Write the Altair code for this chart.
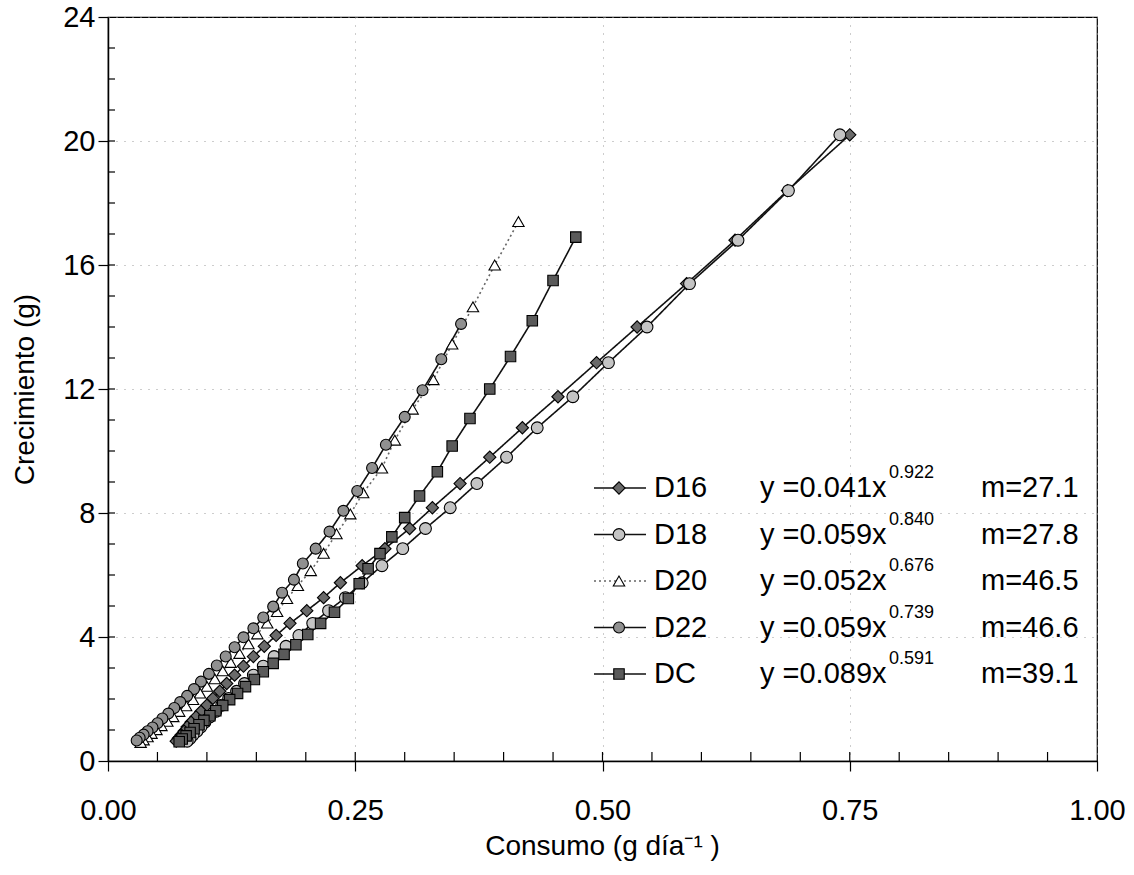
import altair as alt
import pandas as pd

FONT = "Liberation Sans, Arial, sans-serif"

series_names = ["D16", "D18", "D20", "D22", "DC"]

d16_x = [0.75, 0.687, 0.634, 0.585, 0.535, 0.494, 0.455, 0.419, 0.386, 0.356, 0.328, 0.305, 0.280,
         0.257, 0.235, 0.218, 0.201, 0.184, 0.170, 0.158, 0.147, 0.137, 0.128, 0.120, 0.113, 0.106,
         0.100, 0.094, 0.089, 0.084, 0.080, 0.077, 0.074, 0.071, 0.069]
d16_y = [20.2, 18.4, 16.8, 15.4, 14.0, 12.85, 11.75, 10.75, 9.8, 8.95, 8.17, 7.5, 6.85, 6.3, 5.75,
         5.27, 4.85, 4.44, 4.05, 3.7, 3.37, 3.06, 2.77, 2.5, 2.25, 2.02, 1.8, 1.6, 1.42, 1.25, 1.1,
         0.96, 0.84, 0.73, 0.64]

d18_x = [0.74, 0.688, 0.637, 0.588, 0.545, 0.506, 0.470, 0.434, 0.403, 0.373, 0.346, 0.321, 0.298,
         0.277, 0.257, 0.240, 0.223, 0.207, 0.193, 0.180, 0.168, 0.157, 0.147, 0.138, 0.130, 0.122,
         0.115, 0.109, 0.103, 0.098, 0.094, 0.090, 0.086, 0.083, 0.080]
d18_y = [20.2, 18.4, 16.8, 15.4, 14.0, 12.85, 11.75, 10.75, 9.8, 8.95, 8.17, 7.5, 6.85, 6.3, 5.75,
         5.27, 4.85, 4.44, 4.05, 3.7, 3.37, 3.06, 2.77, 2.5, 2.25, 2.02, 1.8, 1.6, 1.42, 1.25, 1.1,
         0.96, 0.84, 0.73, 0.64]

d20_x = [0.415, 0.391, 0.369, 0.348, 0.329, 0.308, 0.290, 0.277, 0.258, 0.245, 0.231, 0.218, 0.205,
         0.192, 0.181, 0.171, 0.161, 0.151, 0.142, 0.133, 0.124, 0.116, 0.108, 0.100, 0.093, 0.086,
         0.079, 0.072, 0.066, 0.060, 0.054, 0.049, 0.044, 0.040, 0.036, 0.033]
d20_y = [17.4, 16.0, 14.65, 13.45, 12.3, 11.35, 10.35, 9.45, 8.65, 7.97, 7.33, 6.7, 6.14, 5.66, 5.24,
         4.82, 4.45, 4.1, 3.78, 3.47, 3.18, 2.91, 2.65, 2.41, 2.19, 1.98, 1.78, 1.6, 1.43, 1.28, 1.14,
         1.01, 0.89, 0.78, 0.68, 0.6]

d22_x = [0.357, 0.337, 0.318, 0.300, 0.281, 0.267, 0.252, 0.238, 0.224, 0.210, 0.197, 0.188, 0.176,
         0.167, 0.157, 0.147, 0.137, 0.128, 0.119, 0.110, 0.102, 0.094, 0.087, 0.080, 0.073, 0.067,
         0.061, 0.055, 0.050, 0.045, 0.040, 0.036, 0.032, 0.029]
d22_y = [14.1, 12.96, 11.96, 11.1, 10.2, 9.45, 8.71, 8.07, 7.4, 6.85, 6.37, 5.85, 5.43, 4.98, 4.63,
         4.28, 3.99, 3.67, 3.37, 3.08, 2.81, 2.56, 2.32, 2.10, 1.90, 1.71, 1.53, 1.37, 1.22, 1.08,
         0.96, 0.85, 0.75, 0.66]

dc_x = [0.473, 0.450, 0.429, 0.407, 0.386, 0.366, 0.348, 0.333, 0.315, 0.300, 0.287, 0.275, 0.263,
        0.254, 0.243, 0.229, 0.215, 0.202, 0.190, 0.178, 0.167, 0.157, 0.148, 0.139, 0.131, 0.123,
        0.116, 0.109, 0.103, 0.097, 0.092, 0.087, 0.083, 0.079, 0.075, 0.072]
dc_y = [16.9, 15.5, 14.2, 13.05, 12.0, 11.05, 10.16, 9.33, 8.55, 7.85, 7.23, 6.69, 6.2, 5.72, 5.24,
        4.8, 4.44, 4.08, 3.75, 3.44, 3.15, 2.88, 2.63, 2.4, 2.18, 1.98, 1.79, 1.62, 1.46, 1.31, 1.17,
        1.04, 0.92, 0.81, 0.71, 0.62]

coef = ["0.041", "0.059", "0.052", "0.059", "0.089"]
expo = ["0.922", "0.840", "0.676", "0.739", "0.591"]
slope = ["27.1", "27.8", "46.5", "46.6", "39.1"]

x_ticks_major = [0.0, 0.25, 0.5, 0.75, 1.0]
y_ticks_major = [0, 4, 8, 12, 16, 20, 24]
x_ticks_minor = [0.05, 0.10, 0.15, 0.20, 0.25, 0.30, 0.35, 0.40, 0.45, 0.50, 0.55, 0.60, 0.65,
                 0.70, 0.75, 0.80, 0.85, 0.90, 0.95]
y_ticks_minor = [1, 2, 3, 4, 5, 6, 7, 8, 9, 10, 11, 12, 13, 14, 15, 16, 17, 18, 19, 20, 21, 22, 23]

# ---- tables ----
frames = []
for name, xs, ys in zip(series_names, [d16_x, d18_x, d20_x, d22_x, dc_x],
                        [d16_y, d18_y, d20_y, d22_y, dc_y]):
    frames.append(pd.DataFrame({"serie": name, "x": xs, "y": ys, "k": list(range(len(xs)))}))
df = pd.concat(frames, ignore_index=True)

df_leg = pd.DataFrame({
    "serie": series_names,
    "eq": ["y =" + c + "x" for c in coef],
    "expo": expo,
    "m": ["m=" + s for s in slope],
})

# ---- styles ----
line_colors = ["#111111", "#111111", "#666666", "#111111", "#111111"]
dashes = [[1, 0], [1, 0], [2, 3], [1, 0], [1, 0]]
fills = ["#6a6a6a", "#c4c4c4", "#ffffff", "#909090", "#5a5a5a"]
shapes = ["diamond", "circle", "triangle-up", "circle", "square"]
sizes = [150, 110, 95, 115, 100]

color_enc = alt.Color("serie:N", scale=alt.Scale(domain=series_names, range=line_colors), legend=None)
dash_enc = alt.StrokeDash("serie:N", scale=alt.Scale(domain=series_names, range=dashes), legend=None)
fill_enc = alt.Fill("serie:N", scale=alt.Scale(domain=series_names, range=fills), legend=None)
shape_enc = alt.Shape("serie:N", scale=alt.Scale(domain=series_names, range=shapes), legend=None)
size_enc = alt.Size("serie:N", scale=alt.Scale(domain=series_names, range=sizes), legend=None)

x_axis = alt.Axis(values=x_ticks_major, format=".2f", title="Consumo (g día⁻¹ )",
                  labelPadding=25, titleX=494, titleY=85, titleBaseline="middle",
                  titleAlign="center", labelFlush=False, labelOverlap=False)
y_axis = alt.Axis(values=y_ticks_major, format="d", title="Crecimiento (g)",
                  labelPadding=3, titleX=-83, titleY=372, titleAngle=270,
                  titleBaseline="middle", titleAlign="center", labelOverlap=False)

x_enc = alt.X("x:Q", scale=alt.Scale(domain=[0, 1], nice=False, zero=False), axis=x_axis)
y_enc = alt.Y("y:Q", scale=alt.Scale(domain=[0, 24], nice=False, zero=False), axis=y_axis)

lines = alt.Chart(df).mark_line(strokeWidth=1.6).encode(
    x=x_enc, y=y_enc, detail="serie:N", order="k:Q", color=color_enc, strokeDash=dash_enc)
points = alt.Chart(df).mark_point(filled=True, stroke="black", strokeWidth=1.1, opacity=1).encode(
    x=x_enc, y=y_enc, shape=shape_enc, fill=fill_enc, size=size_enc)

xminor = alt.Chart(pd.DataFrame({"x": x_ticks_minor})).mark_rule(color="black", strokeWidth=1.2).encode(
    x=x_enc, y=alt.value(744), y2=alt.value(735))
yminor = alt.Chart(pd.DataFrame({"y": y_ticks_minor})).mark_rule(color="black", strokeWidth=1.2).encode(
    y=y_enc, x=alt.value(0), x2=alt.value(7))

main = alt.layer(lines, points, xminor, yminor)

leg_y = alt.Y("serie:N", scale=alt.Scale(type="point", domain=series_names, range=[471, 657], padding=0),
              axis=None)
leg_line = alt.Chart(df_leg).mark_rule(strokeWidth=1.6).encode(
    y=leg_y, x=alt.value(486), x2=alt.value(538), color=color_enc, strokeDash=dash_enc)
leg_pt = alt.Chart(df_leg).mark_point(filled=True, stroke="black", strokeWidth=1.1, opacity=1).encode(
    y=leg_y, x=alt.value(511), shape=shape_enc, fill=fill_enc, size=size_enc)
leg_lbl = alt.Chart(df_leg).mark_text(align="left", baseline="middle", fontSize=29, font=FONT,
                                      color="black").encode(y=leg_y, x=alt.value(546), text="serie:N")
leg_eq = alt.Chart(df_leg).mark_text(align="left", baseline="middle", fontSize=29, font=FONT,
                                     color="black").encode(y=leg_y, x=alt.value(652), text="eq:N")
leg_sup = alt.Chart(df_leg).mark_text(align="left", baseline="middle", fontSize=18, font=FONT, dy=-15,
                                      color="black").encode(y=leg_y, x=alt.value(781), text="expo:N")
leg_m = alt.Chart(df_leg).mark_text(align="left", baseline="middle", fontSize=29, font=FONT,
                                    color="black").encode(y=leg_y, x=alt.value(873), text="m:N")

legend = alt.layer(leg_line, leg_pt, leg_lbl, leg_eq, leg_sup, leg_m)

chart = alt.layer(main, legend).resolve_scale(y="independent").properties(
    width=989, height=744,
    padding={"left": 108, "top": 17, "right": 37, "bottom": 114},
    autosize=alt.AutoSizeParams(type="none"),
    background="white",
).configure_view(stroke="black", strokeWidth=1.2).configure_axis(
    labelFont=FONT, titleFont=FONT, labelFontSize=29, titleFontSize=28,
    labelColor="black", titleColor="black", titleFontWeight="normal",
    domainColor="black", domainWidth=1.5, tickColor="black", tickWidth=1.2, tickSize=10,
    grid=True, gridColor="#9a9a9a", gridDash=[1, 7], gridWidth=1,
)

chart.save("out.html", embed_options={"renderer": "svg", "actions": False})
